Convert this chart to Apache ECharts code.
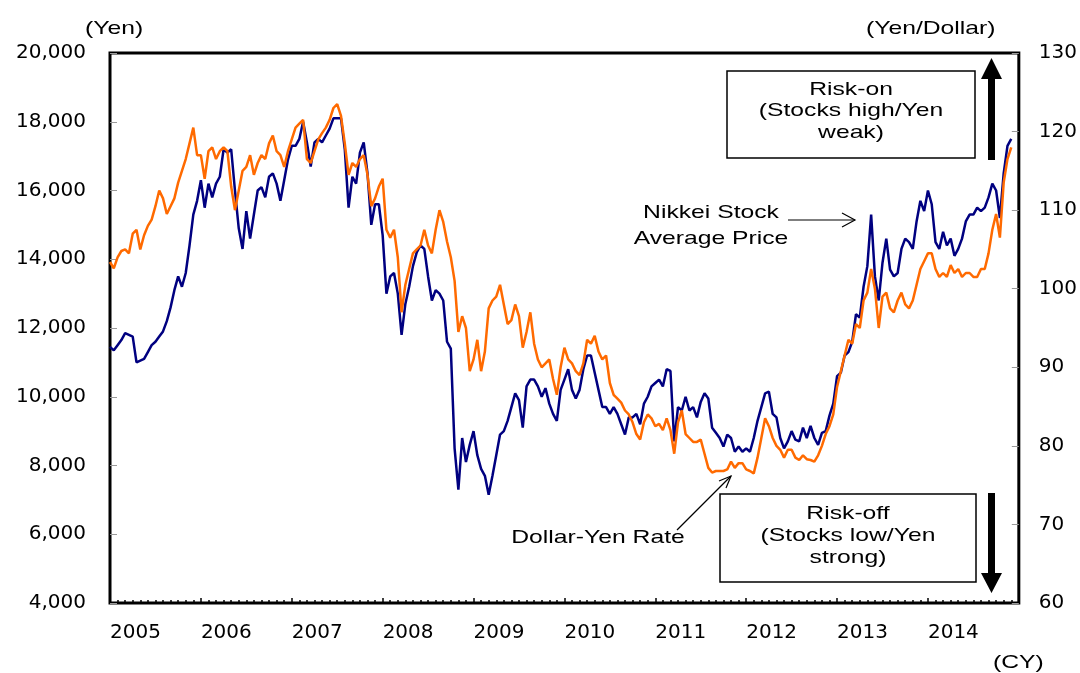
<!DOCTYPE html>
<html>
<head>
<meta charset="utf-8">
<script src="https://cdn.jsdelivr.net/npm/echarts@6/dist/echarts.min.js"></script>
<style>
    html, body { margin: 0; padding: 0; background: #fff; }
    #chart { width: 1080px; height: 673px; }
</style>
</head>
<body>
<div id="chart"></div>
<script>
// semi-monthly samples (1st and 16th of each month), starting Jan 2005
var startYear = 2005;
var yearLabels = ['2005', '2006', '2007', '2008', '2009', '2010', '2011', '2012', '2013', '2014'];

// Nikkei Stock Average Price (Yen, left axis)
var nikkei = [
    11450, 11350, 11500, 11650, 11850, 11800, 11750, 11000, 11050, 11100, 11300, 11500,
    11600, 11750, 11900, 12200, 12600, 13100, 13500, 13200, 13600, 14400, 15300, 15700,
    16300, 15500, 16200, 15800, 16200, 16400, 17200, 17100, 17200, 16000, 14900, 14300,
    15400, 14600, 15300, 16000, 16100, 15800, 16400, 16500, 16200, 15700, 16300, 16900,
    17300, 17300, 17500, 18000, 17400, 16700, 17400, 17500, 17400, 17600, 17800, 18100,
    18100, 18100, 17200, 15500, 16400, 16200, 17100, 17400, 16500, 15000, 15600, 15600,
    14700, 13000, 13500, 13600, 13000, 11800, 12700, 13200, 13800, 14200, 14400, 14300,
    13500, 12800, 13100, 13000, 12800, 11600, 11400, 8500, 7300, 8800, 8100, 8600,
    9000, 8300, 7900, 7700, 7150, 7700, 8300, 8900, 9000, 9300, 9700, 10100,
    9900, 9100, 10300, 10500, 10500, 10300, 10000, 10250, 9800, 9500, 9300, 10200,
    10500, 10800, 10200, 9950, 10200, 10800, 11200, 11200, 10700, 10200, 9700, 9700,
    9500, 9700, 9500, 9200, 8900, 9400, 9400, 9500, 9200, 9800, 10000, 10300,
    10400, 10500, 10300, 10800, 10750, 8700, 9700, 9600, 10000, 9600, 9700, 9400,
    9850, 10100, 9950, 9100, 8950, 8800, 8550, 8900, 8800, 8400, 8550, 8400,
    8500, 8400, 8800, 9300, 9700, 10100, 10150, 9500, 9400, 8800, 8500, 8700,
    9000, 8750, 8700, 9100, 8800, 9150, 8800, 8600, 8950, 9000, 9450, 9800,
    10600, 10700, 11200, 11300, 11600, 12400, 12300, 13200, 13800, 15300, 13500, 12800,
    13900, 14600, 13700, 13500, 13600, 14300, 14600, 14500, 14300, 15100, 15700, 15400,
    16000, 15600, 14500, 14300, 14800, 14400, 14600, 14100, 14300, 14600, 15100, 15300,
    15300, 15500, 15400, 15500, 15800, 16200, 16000, 15200, 16500, 17300, 17500
];

// Dollar-Yen Rate (Yen/Dollar, right axis)
var usdjpy = [
    103.4, 102.6, 104.0, 104.8, 105.0, 104.5, 107.0, 107.5, 105.0, 106.8, 108.0, 108.8,
    110.5, 112.5, 111.5, 109.5, 110.5, 111.5, 113.5, 115.0, 116.5, 118.5, 120.5, 117.0,
    117.0, 114.0, 117.5, 118.0, 116.5, 117.5, 118.0, 117.5, 113.0, 110.0, 112.5, 115.0,
    115.5, 117.0, 114.5, 116.0, 117.0, 116.5, 118.5, 119.5, 117.5, 117.0, 115.5, 117.5,
    119.0, 120.5, 121.0, 121.5, 116.5, 116.0, 117.5, 119.0, 119.8, 120.5, 121.5, 123.0,
    123.5, 122.0, 118.5, 114.5, 116.0, 115.5, 116.5, 117.0, 114.5, 110.5, 111.5, 113.0,
    114.0, 107.5, 106.5, 107.5, 104.0, 97.0, 100.5, 102.5, 104.5, 105.0, 105.5, 107.5,
    105.5, 104.5, 107.5, 110.0, 108.5, 106.0, 104.0, 101.0, 94.5, 96.5, 95.0, 89.5,
    91.0, 93.5, 89.5, 92.0, 97.5, 98.5, 99.0, 100.5, 98.0, 95.5, 96.0, 98.0,
    96.5, 92.5, 94.5, 97.0, 93.0, 91.0, 90.0, 90.5, 91.0, 88.5, 86.5, 90.0,
    92.5, 91.0, 90.5, 89.5, 89.0, 90.5, 93.5, 93.0, 94.0, 92.0, 91.0, 91.5,
    88.0, 86.5, 86.0, 85.5, 84.5, 84.0, 83.0, 81.5, 80.8, 83.0, 84.0, 83.5,
    82.5, 82.8, 82.0, 83.5, 82.0, 79.0, 83.0, 84.5, 81.5, 81.0, 80.5, 80.5,
    80.8, 79.0, 77.2, 76.6, 76.8, 76.8, 76.8, 77.0, 78.0, 77.2, 77.8, 77.8,
    77.0, 76.8, 76.5, 78.5, 81.0, 83.5, 82.5, 81.0, 80.0, 79.5, 78.5, 79.5,
    79.5, 78.5, 78.2, 78.8, 78.3, 78.2, 78.0, 78.8, 80.0, 81.5, 82.5, 84.0,
    87.5, 89.5, 91.5, 93.5, 93.0, 95.5, 95.0, 98.5, 99.5, 102.5, 100.0, 95.0,
    99.0, 99.5, 97.5, 97.0, 98.5, 99.5, 98.0, 97.5, 98.5, 100.5, 102.5, 103.5,
    104.5, 104.5, 102.5, 101.5, 102.0, 101.5, 103.0, 102.0, 102.5, 101.5, 102.0, 102.0,
    101.5, 101.5, 102.5, 102.5, 104.5, 107.5, 109.5, 106.5, 113.5, 116.5, 118.0
];

function toPairs(arr) {
    return arr.map(function (v, i) {
        return [startYear + i / 24, v];
    });
}

var font = "'Liberation Sans', Arial, sans-serif";
var axisFont = "'DejaVu Sans', 'Liberation Sans', sans-serif";
var wide = 1.3; // text in the original is drawn horizontally stretched

var myChart = echarts.init(document.getElementById('chart'));

function label(text, x, y, align, lh) {
    return {
        type: 'text', x: x, y: y, z: 11, scaleX: wide,
        style: { text: text, font: '19px ' + font, fill: '#000', align: align || 'left', lineHeight: lh || 22 }
    };
}

var option = {
    animation: false,
    backgroundColor: '#fff',
    textStyle: { fontFamily: font },
    grid: {
        left: 110, right: 60, top: 53, bottom: 70,
        show: true,
        borderColor: '#000',
        borderWidth: 3,
        backgroundColor: 'transparent'
    },
    xAxis: {
        type: 'value',
        min: 2005,
        max: 2015,
        interval: 1,
        axisLine: { show: false },
        splitLine: { show: false },
        axisTick: { show: true, inside: true, length: 5, lineStyle: { color: '#000', width: 1.5 } },
        minorTick: { show: true, splitNumber: 12, length: 3, lineStyle: { color: '#000', width: 1.5 } },
        axisLabel: {
            showMaxLabel: false,
            align: 'left',
            margin: 20,
            color: '#000',
            fontSize: 20,
            fontFamily: axisFont,
            formatter: function (v) {
                return yearLabels[Math.round(v) - startYear] || '';
            }
        }
    },
    yAxis: [{
        type: 'value',
        min: 4000,
        max: 20000,
        interval: 2000,
        axisLine: { show: false },
        splitLine: { show: false },
        axisTick: { show: true, inside: true, length: 7, lineStyle: { color: '#999' } },
        axisLabel: {
            margin: 24,
            color: '#000',
            fontSize: 20,
            fontFamily: axisFont,
            formatter: function (v) {
                return v.toLocaleString('en-US');
            }
        }
    }, {
        type: 'value',
        min: 60,
        max: 130,
        interval: 10,
        axisLine: { show: false },
        splitLine: { show: false },
        axisTick: { show: true, inside: true, length: 7, lineStyle: { color: '#999' } },
        axisLabel: { margin: 20, color: '#000', fontSize: 20, fontFamily: axisFont }
    }],
    series: [{
        name: 'Nikkei Stock Average Price',
        type: 'line',
        yAxisIndex: 0,
        showSymbol: false,
        lineStyle: { color: '#000080', width: 2.5 },
        data: toPairs(nikkei)
    }, {
        name: 'Dollar-Yen Rate',
        type: 'line',
        yAxisIndex: 1,
        showSymbol: false,
        lineStyle: { color: '#ff6a00', width: 2.5 },
        data: toPairs(usdjpy)
    }],
    graphic: [
        label('(Yen)', 85, 18),
        label('(Yen/Dollar)', 866, 18),
        label('(CY)', 993, 652),

        // risk-on box + up arrow
        { type: 'rect', shape: { x: 727, y: 71, width: 248, height: 87 }, style: { fill: '#fff', stroke: '#000', lineWidth: 1.5 }, z: 10 },
        label('Risk-on\n(Stocks high/Yen\nweak)', 851, 79, 'center', 21.5),
        { type: 'polygon', z: 10, shape: { points: [[988, 160], [995, 160], [995, 79], [1002, 79], [991.5, 58], [981, 79], [988, 79]] }, style: { fill: '#000' } },

        // risk-off box + down arrow
        { type: 'rect', shape: { x: 720, y: 494, width: 256, height: 88 }, style: { fill: '#fff', stroke: '#000', lineWidth: 1.5 }, z: 10 },
        label('Risk-off\n(Stocks low/Yen\nstrong)', 848, 503, 'center', 22),
        { type: 'polygon', z: 10, shape: { points: [[988, 493], [995, 493], [995, 573], [1002, 573], [991.5, 593], [981, 573], [988, 573]] }, style: { fill: '#000' } },

        // series labels with arrows
        label('Nikkei Stock\nAverage Price', 711, 200, 'center', 26),
        { type: 'line', z: 11, shape: { x1: 788, y1: 220, x2: 855, y2: 220 }, style: { stroke: '#000', lineWidth: 1.2 } },
        { type: 'polyline', z: 11, shape: { points: [[842, 213], [855, 220], [842, 227]] }, style: { stroke: '#000', lineWidth: 1.2, fill: null } },

        label('Dollar-Yen Rate', 598, 527, 'center'),
        { type: 'line', z: 11, shape: { x1: 677, y1: 530, x2: 731, y2: 476 }, style: { stroke: '#000', lineWidth: 1.2 } },
        { type: 'polyline', z: 11, shape: { points: [[719, 481], [731, 476], [726, 488]] }, style: { stroke: '#000', lineWidth: 1.2, fill: null } }
    ]
};

myChart.setOption(option);
</script>
</body>
</html>
